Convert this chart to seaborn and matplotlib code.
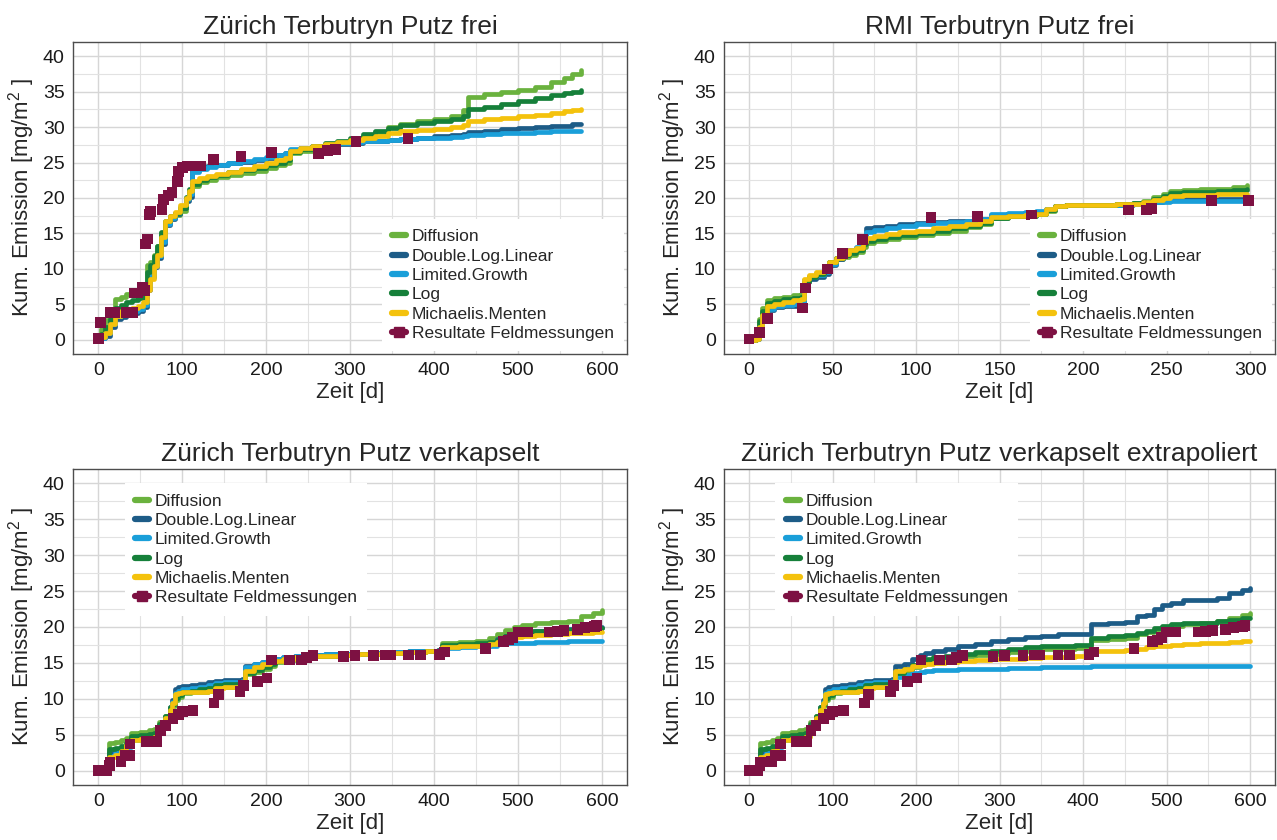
import numpy as np
import pandas as pd
import matplotlib
matplotlib.use('Agg')
import matplotlib.pyplot as plt
from matplotlib.ticker import MultipleLocator
from matplotlib.lines import Line2D
import seaborn as sns

# Modelle und Farben
modelle = ['Diffusion', 'Double.Log.Linear', 'Limited.Growth', 'Log', 'Michaelis.Menten']
farben = ['#6ab23e', '#1d5c87', '#1a9fd9', '#16803a', '#f4c20d']
farbe_mess = '#7d1142'

# --- Zürich Terbutryn Putz frei ---
zeit_zh_frei = [0, 3, 8, 14, 20, 27, 33, 40, 47, 53, 58, 62, 66, 70, 75, 80, 86, 92, 98, 104, 108, 112,
                120, 130, 140, 155, 170, 185, 200, 212, 222, 228, 240, 255, 270, 285, 300, 315, 330, 345,
                360, 380, 400, 420, 435, 440, 460, 480, 500, 520, 540, 555, 565, 575]
diff_zh_frei = [0, 1.5, 2.8, 4.0, 5.8, 6.1, 6.5, 6.6, 6.8, 7.0, 10.6, 11.0, 12.0, 13.2, 15.0, 16.6, 17.2, 17.6,
                18.2, 19.8, 20.8, 21.7, 22.2, 22.5, 22.9, 23.2, 23.5, 23.8, 24.2, 24.6, 25.0, 26.3, 26.6,
                27.0, 27.4, 27.8, 28.2, 28.7, 29.3, 30.0, 30.5, 30.8, 31.2, 31.6, 32.4, 34.3, 34.6, 34.9,
                35.2, 35.7, 36.3, 36.9, 37.5, 38.0]
dll_zh_frei = [0, 0.2, 0.6, 1.8, 2.9, 3.2, 3.5, 3.8, 4.0, 4.6, 7.0, 8.8, 10.2, 11.5, 13.5, 16.2, 17.0, 17.8,
               18.6, 19.6, 20.2, 23.8, 24.3, 24.5, 24.7, 24.9, 25.1, 25.4, 25.7, 26.0, 26.3, 26.8, 27.0,
               27.2, 27.4, 27.6, 27.8, 28.0, 28.1, 28.2, 28.3, 28.5, 28.7, 28.9, 29.0, 29.3, 29.5, 29.7,
               29.9, 30.0, 30.1, 30.2, 30.4, 30.5]
lg_zh_frei = [0, 0.3, 0.9, 2.2, 3.3, 3.6, 3.9, 4.1, 4.3, 4.9, 7.4, 9.0, 10.4, 11.8, 13.8, 16.4, 17.2, 17.9,
              18.7, 19.8, 20.5, 23.6, 24.1, 24.4, 24.7, 25.0, 25.2, 25.5, 25.8, 26.1, 26.4, 26.9, 27.1,
              27.3, 27.5, 27.7, 27.9, 28.0, 28.1, 28.2, 28.3, 28.4, 28.5, 28.6, 28.7, 28.9, 29.0, 29.1,
              29.2, 29.3, 29.4, 29.4, 29.5, 29.5]
log_zh_frei = [0, 0.8, 1.8, 3.0, 4.5, 4.9, 5.3, 5.6, 5.9, 6.5, 9.5, 10.5, 11.8, 13.2, 15.2, 16.8, 17.4, 17.9,
               18.6, 20.2, 21.2, 22.0, 22.5, 22.9, 23.3, 23.6, 23.9, 24.2, 24.6, 25.0, 25.4, 26.5, 26.9,
               27.3, 27.7, 28.1, 28.5, 29.0, 29.4, 29.9, 30.3, 30.6, 30.9, 31.2, 31.5, 32.6, 32.9, 33.3,
               33.7, 34.1, 34.5, 34.8, 35.0, 35.2]
mm_zh_frei = [0, 0.4, 1.0, 2.2, 3.3, 4.0, 4.3, 4.5, 4.7, 5.3, 7.0, 8.6, 10.4, 12.0, 14.5, 16.8, 17.4, 18.0,
              19.0, 20.0, 21.0, 22.4, 22.8, 23.1, 23.4, 23.7, 24.1, 24.5, 25.0, 25.3, 25.7, 26.6, 27.0,
              27.3, 27.6, 27.9, 28.2, 28.5, 28.8, 29.1, 29.4, 29.6, 29.8, 30.0, 30.3, 30.9, 31.1, 31.3,
              31.5, 31.7, 32.0, 32.2, 32.4, 32.5]
mess_t_zh_frei = [0, 3, 15, 19, 33, 41, 43, 47, 53, 55, 56, 59, 61, 62, 76, 78, 84, 88, 94, 96, 100, 106,
                  118, 122, 137, 170, 206, 262, 273, 283, 307, 369]
mess_y_zh_frei = [0.2, 2.4, 3.8, 3.8, 3.8, 3.8, 6.6, 6.6, 7.4, 7.0, 13.5, 14.2, 17.7, 18.1, 18.4, 19.8,
                  20.4, 20.8, 22.3, 23.7, 24.3, 24.5, 24.5, 24.5, 25.4, 25.8, 26.4, 26.3, 26.7, 26.8,
                  28.0, 28.4]

# --- RMI Terbutryn Putz frei ---
zeit_rmi = [0, 4, 6, 8, 11, 15, 20, 26, 31, 33, 36, 40, 45, 48, 52, 56, 60, 64, 68, 70, 75, 82, 90, 100,
            110, 120, 130, 138, 145, 155, 165, 172, 178, 183, 190, 200, 210, 220, 230, 236, 242, 248, 252,
            260, 270, 280, 290, 298]
diff_rmi = [0, 0.5, 3.0, 4.5, 5.6, 5.9, 6.1, 6.3, 6.5, 8.4, 9.0, 9.4, 10.0, 11.0, 11.4, 11.7, 12.0, 12.4,
            13.1, 13.6, 13.9, 14.2, 14.5, 14.8, 15.1, 15.4, 15.9, 16.3, 17.2, 17.4, 17.5, 17.7, 18.2, 18.8,
            19.0, 19.0, 19.0, 19.1, 19.3, 19.6, 20.2, 20.6, 21.0, 21.1, 21.2, 21.3, 21.5, 21.9]
dll_rmi = [0, 0.1, 1.5, 3.0, 4.2, 4.6, 4.7, 4.8, 4.9, 8.2, 8.6, 8.9, 9.3, 10.5, 11.4, 12.0, 12.6, 13.0,
           13.6, 15.7, 15.9, 16.1, 16.3, 16.5, 16.6, 16.7, 16.8, 17.0, 17.6, 17.8, 17.9, 18.0, 18.4, 18.9,
           19.0, 19.0, 19.0, 19.0, 19.1, 19.2, 19.5, 19.7, 19.8, 19.8, 19.8, 19.9, 19.9, 19.9]
lg_rmi = [0, 0.1, 1.6, 3.1, 4.4, 4.8, 4.9, 5.0, 5.1, 8.4, 8.8, 9.1, 9.5, 10.7, 11.5, 12.1, 12.7, 13.1,
          13.7, 15.2, 15.5, 15.8, 16.1, 16.3, 16.5, 16.6, 16.8, 17.0, 17.7, 17.9, 18.0, 18.1, 18.5, 18.9,
          19.0, 19.0, 19.0, 19.0, 19.1, 19.2, 19.4, 19.5, 19.6, 19.6, 19.6, 19.6, 19.6, 19.6]
log_rmi = [0, 0.4, 2.6, 4.1, 5.2, 5.5, 5.7, 5.9, 6.1, 8.2, 8.9, 9.3, 9.9, 11.0, 11.5, 11.9, 12.3, 12.7,
           13.5, 13.9, 14.2, 14.5, 14.8, 15.1, 15.4, 15.7, 16.1, 16.5, 17.2, 17.4, 17.5, 17.7, 18.3, 18.8,
           19.0, 19.0, 19.0, 19.1, 19.3, 19.5, 19.9, 20.3, 20.7, 20.8, 20.9, 21.0, 21.1, 21.2]
mm_rmi = [0, 0.1, 1.8, 3.5, 4.8, 5.1, 5.4, 5.6, 5.8, 8.6, 9.2, 9.5, 10.2, 11.0, 11.6, 12.1, 12.6, 13.0,
          13.8, 14.3, 14.6, 14.9, 15.2, 15.4, 15.7, 16.0, 16.3, 16.7, 17.3, 17.5, 17.6, 17.8, 18.4, 18.9,
          19.0, 19.0, 19.0, 19.1, 19.2, 19.4, 19.7, 20.0, 20.3, 20.4, 20.4, 20.5, 20.5, 20.6]
mess_t_rmi = [0, 6, 11, 32, 34, 47, 56, 68, 109, 137, 169, 227, 238, 241, 277, 299]
mess_y_rmi = [0.1, 1.0, 3.0, 4.5, 7.3, 10.0, 12.2, 14.1, 17.2, 17.4, 17.6, 18.3, 18.3, 18.5, 19.6, 19.6]

# --- Zürich Terbutryn Putz verkapselt (gemessen + extrapoliert) ---
zeit_zh_verk = [0, 5, 10, 13, 20, 27, 33, 39, 50, 60, 67, 73, 80, 85, 88, 91, 95, 100, 110, 120, 131, 139,
                150, 160, 171, 175, 185, 195, 205, 211, 220, 235, 250, 270, 290, 310, 330, 350, 370, 390,
                405, 410, 430, 450, 465, 475, 485, 495, 505, 520, 540, 560, 575, 590, 600]
diff_zh_verk = [0, 0.5, 1.5, 3.8, 4.0, 4.2, 4.6, 5.2, 5.4, 5.6, 5.8, 6.8, 7.6, 8.6, 9.0, 9.9, 10.3, 10.8,
                10.9, 11.0, 11.1, 11.6, 11.6, 11.6, 11.7, 13.4, 13.8, 14.2, 14.6, 15.1, 15.4, 15.8, 15.9,
                16.0, 16.1, 16.2, 16.3, 16.5, 16.6, 16.7, 16.8, 17.8, 17.9, 18.0, 18.4, 19.0, 19.6, 20.0,
                20.3, 20.5, 20.7, 20.9, 21.5, 22.0, 22.4]
dll_zh_verk = [0, 0.2, 0.8, 2.4, 2.6, 2.8, 3.5, 4.5, 4.7, 4.8, 4.9, 6.2, 7.4, 8.8, 9.8, 11.3, 11.6, 11.8,
               11.9, 12.1, 12.3, 12.5, 12.6, 12.6, 12.7, 14.6, 14.8, 15.1, 15.4, 15.6, 15.8, 16.0, 16.1,
               16.2, 16.2, 16.3, 16.4, 16.5, 16.6, 16.7, 16.8, 17.2, 17.3, 17.5, 17.8, 18.3, 18.8, 19.1,
               19.3, 19.5, 19.6, 19.7, 19.8, 19.9, 20.0]
lg_zh_verk = [0, 0.2, 0.7, 2.1, 2.4, 2.6, 3.3, 4.3, 4.5, 4.7, 4.8, 6.1, 7.3, 8.6, 9.5, 10.8, 11.1, 11.3,
              11.5, 11.7, 11.9, 12.2, 12.3, 12.4, 12.5, 14.4, 14.8, 15.1, 15.4, 15.6, 15.8, 16.0, 16.1,
              16.2, 16.2, 16.3, 16.4, 16.5, 16.6, 16.7, 16.7, 17.1, 17.2, 17.3, 17.4, 17.6, 17.7, 17.8,
              17.8, 17.9, 17.9, 18.0, 18.0, 18.0, 18.0]
log_zh_verk = [0, 0.4, 1.2, 3.0, 3.2, 3.4, 3.8, 4.8, 5.0, 5.1, 5.3, 6.5, 7.6, 8.8, 9.3, 10.1, 10.5, 10.9,
               11.1, 11.3, 11.5, 11.9, 12.0, 12.0, 12.1, 13.6, 14.0, 14.4, 14.8, 15.2, 15.5, 15.8, 15.9,
               16.0, 16.1, 16.2, 16.3, 16.4, 16.5, 16.6, 16.7, 17.5, 17.6, 17.7, 17.9, 18.2, 18.8, 19.2,
               19.4, 19.5, 19.5, 19.6, 19.7, 19.8, 19.9]
mm_zh_verk = [0, 0.3, 0.9, 1.9, 2.2, 2.8, 3.6, 4.2, 4.4, 4.6, 4.7, 6.0, 7.3, 8.5, 9.4, 10.6, 10.8, 10.9,
              11.0, 11.0, 11.1, 11.5, 11.6, 11.7, 11.8, 13.9, 14.4, 14.8, 15.1, 15.3, 15.5, 15.8, 15.9,
              16.0, 16.1, 16.2, 16.3, 16.4, 16.5, 16.6, 16.7, 17.2, 17.3, 17.4, 17.6, 17.9, 18.3, 18.6,
              18.8, 18.9, 19.0, 19.1, 19.2, 19.3, 19.3]

diff_zh_extra = [0, 0.5, 1.5, 3.8, 4.0, 4.2, 4.6, 5.2, 5.4, 5.6, 5.8, 6.8, 7.6, 8.6, 9.0, 9.9, 10.3, 10.8,
                 10.9, 11.0, 11.1, 11.6, 11.6, 11.6, 11.7, 13.4, 13.8, 14.4, 15.0, 15.2, 15.4, 15.7, 15.9,
                 16.1, 16.3, 16.5, 16.7, 16.9, 17.0, 17.1, 17.1, 18.2, 18.3, 18.4, 19.0, 19.3, 19.6, 20.0,
                 20.2, 20.4, 20.6, 20.9, 21.3, 21.7, 22.0]
dll_zh_extra = [0, 0.2, 0.8, 2.4, 2.6, 2.8, 3.5, 4.5, 4.7, 4.8, 4.9, 6.2, 7.4, 8.8, 9.8, 11.3, 11.6, 11.8,
                11.9, 12.1, 12.3, 12.5, 12.6, 12.6, 12.7, 14.6, 14.9, 15.6, 16.1, 16.4, 16.7, 17.0, 17.3,
                17.6, 18.0, 18.3, 18.6, 18.8, 19.0, 19.0, 19.0, 20.4, 20.5, 20.7, 21.5, 21.7, 22.5, 23.0,
                23.4, 23.7, 23.8, 24.1, 24.7, 25.1, 25.4]
lg_zh_extra = [0, 0.2, 0.7, 2.1, 2.4, 2.6, 3.3, 4.3, 4.5, 4.7, 4.8, 6.1, 7.3, 8.6, 9.5, 10.8, 11.1, 11.3,
               11.5, 11.7, 11.9, 12.2, 12.3, 12.4, 12.5, 13.0, 13.3, 13.6, 13.8, 13.9, 14.0, 14.0, 14.1,
               14.2, 14.2, 14.3, 14.3, 14.4, 14.4, 14.4, 14.4, 14.5, 14.5, 14.5, 14.6, 14.6, 14.6, 14.6,
               14.6, 14.6, 14.6, 14.6, 14.6, 14.6, 14.6]
log_zh_extra = [0, 0.4, 1.2, 3.0, 3.2, 3.4, 3.8, 4.8, 5.0, 5.1, 5.3, 6.5, 7.6, 8.8, 9.3, 10.1, 10.5, 10.9,
                11.1, 11.3, 11.5, 11.9, 12.0, 12.0, 12.1, 13.6, 14.1, 14.7, 15.3, 15.6, 15.8, 16.0, 16.2,
                16.5, 16.7, 16.9, 17.2, 17.3, 17.4, 17.5, 17.5, 18.5, 18.7, 18.9, 19.2, 19.5, 19.9, 20.2,
                20.4, 20.5, 20.6, 20.8, 21.0, 21.2, 21.3]
mm_zh_extra = [0, 0.3, 0.9, 1.9, 2.2, 2.8, 3.6, 4.2, 4.4, 4.6, 4.7, 6.0, 7.3, 8.5, 9.4, 10.6, 10.8, 10.9,
               11.0, 11.0, 11.1, 11.5, 11.6, 11.7, 11.8, 13.9, 14.2, 14.5, 14.7, 14.9, 15.0, 15.1, 15.2,
               15.4, 15.5, 15.6, 15.7, 15.8, 15.8, 15.9, 15.9, 16.6, 16.7, 16.8, 16.9, 17.2, 17.3, 17.4,
               17.5, 17.6, 17.7, 17.8, 17.9, 18.0, 18.0]

mess_t_zh_verk = [0, 4, 10, 13, 14, 27, 32, 38, 38, 57, 69, 74, 80, 89, 96, 100, 113, 138, 143, 169, 173,
                  190, 201, 206, 228, 242, 248, 256, 292, 306, 328, 342, 348, 370, 384, 407, 413, 461,
                  483, 489, 494, 500, 511, 538, 547, 555, 571, 580, 591, 594]
mess_y_zh_verk = [0, 0, 0, 0.7, 1.2, 1.3, 2.1, 2.1, 3.7, 4.1, 4.1, 5.6, 6.3, 7.3, 7.8, 8.2, 8.4, 9.4,
                  10.6, 11.0, 11.9, 12.4, 12.9, 15.4, 15.4, 15.4, 15.7, 16.0, 15.9, 16.0, 16.0, 16.1,
                  16.1, 16.1, 16.1, 16.2, 16.5, 17.0, 18.0, 18.2, 18.5, 19.3, 19.3, 19.3, 19.4, 19.5,
                  19.6, 19.9, 20.1, 20.2]

plt.rcParams['mathtext.fontset'] = 'custom'
plt.rcParams['mathtext.rm'] = 'Liberation Sans'
plt.rcParams['mathtext.default'] = 'regular'
sns.set_style('white')
plt.rcParams['font.family'] = ['Liberation Sans', 'DejaVu Sans']

fig = plt.figure(figsize=(12.77, 8.40), dpi=100)
ax1 = fig.add_axes([0.0572, 0.5786, 0.4338, 0.3714])
ax2 = fig.add_axes([0.5670, 0.5786, 0.4315, 0.3714])
ax3 = fig.add_axes([0.0572, 0.0655, 0.4338, 0.3762])
ax4 = fig.add_axes([0.5670, 0.0655, 0.4315, 0.3762])


def zeichne(ax, zeit, werte, mess_t, mess_y, titel, xmax, xschritt, unten_rechts):
    df = pd.DataFrame({
        'Zeit': np.tile(zeit, len(modelle)),
        'Emission': np.concatenate(werte),
        'Modell': np.repeat(modelle, len(zeit)),
    })
    sns.lineplot(data=df, x='Zeit', y='Emission', hue='Modell', hue_order=modelle,
                 palette=farben, drawstyle='steps-post', linewidth=3.4, estimator=None,
                 legend=False, ax=ax)
    sns.scatterplot(x=mess_t, y=mess_y, marker='s', s=60, color=farbe_mess, edgecolor='none',
                    ax=ax, zorder=5)

    ax.set_xlim(-0.05 * xmax, 1.05 * xmax)
    ax.set_ylim(-2, 42)
    ax.xaxis.set_major_locator(MultipleLocator(xschritt))
    ax.xaxis.set_minor_locator(MultipleLocator(xschritt / 2))
    ax.yaxis.set_major_locator(MultipleLocator(5))
    ax.yaxis.set_minor_locator(MultipleLocator(2.5))
    ax.grid(which='major', color='#d6d6d6', linewidth=1.0)
    ax.grid(which='minor', color='#e2e2e2', linewidth=0.8)
    ax.set_axisbelow(True)
    for s in ax.spines.values():
        s.set_color('#4d4d4d')
        s.set_linewidth(1.0)
    ax.tick_params(which='major', direction='out', length=4, width=0.9, color='#4d4d4d',
                   labelsize=14, labelcolor='#1a1a1a', pad=2)
    ax.tick_params(which='minor', length=0)

    ax.set_title(titel, fontsize=19, pad=6)
    ax.set_xlabel('Zeit [d]', fontsize=16, labelpad=2)
    ax.set_ylabel('Kum. Emission [mg/m$^2$ ]', fontsize=16, labelpad=4)

    handles = [Line2D([0], [0], color=c, lw=4.5) for c in farben]
    handles.append(Line2D([0], [0], color=farbe_mess, lw=4.5, marker='s', markersize=7))
    labels = modelle + ['Resultate Feldmessungen']
    opts = dict(handlelength=0.8, handletextpad=0.35, labelspacing=0.24, borderpad=0.6,
                fontsize=12.5, frameon=True, fancybox=False)
    if unten_rechts:
        leg = ax.legend(handles, labels, loc='lower right', bbox_to_anchor=(1.0, 0.0),
                        borderaxespad=0.15, **opts)
    else:
        leg = ax.legend(handles, labels, loc='upper left', bbox_to_anchor=(0.093, 0.955),
                        borderaxespad=0, **opts)
    leg.get_frame().set_facecolor('white')
    leg.get_frame().set_edgecolor('none')
    leg.get_frame().set_alpha(1)
    leg.set_zorder(10)


zeichne(ax1, zeit_zh_frei,
        [diff_zh_frei, dll_zh_frei, lg_zh_frei, log_zh_frei, mm_zh_frei],
        mess_t_zh_frei, mess_y_zh_frei, 'Zürich Terbutryn Putz frei', 600, 100, True)
zeichne(ax2, zeit_rmi,
        [diff_rmi, dll_rmi, lg_rmi, log_rmi, mm_rmi],
        mess_t_rmi, mess_y_rmi, 'RMI Terbutryn Putz frei', 300, 50, True)
zeichne(ax3, zeit_zh_verk,
        [diff_zh_verk, dll_zh_verk, lg_zh_verk, log_zh_verk, mm_zh_verk],
        mess_t_zh_verk, mess_y_zh_verk, 'Zürich Terbutryn Putz verkapselt', 600, 100, False)
zeichne(ax4, zeit_zh_verk,
        [diff_zh_extra, dll_zh_extra, lg_zh_extra, log_zh_extra, mm_zh_extra],
        mess_t_zh_verk, mess_y_zh_verk, 'Zürich Terbutryn Putz verkapselt extrapoliert', 600, 100, False)

fig.savefig('out.png', dpi=100)
